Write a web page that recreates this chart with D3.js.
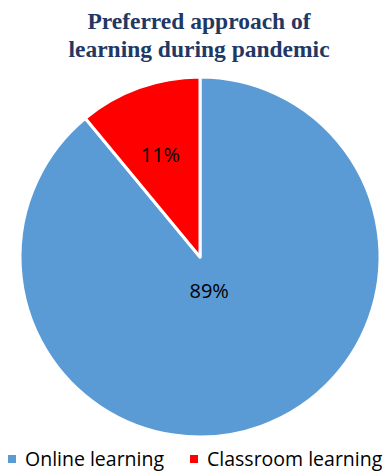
<!DOCTYPE html>
<html>
<head>
<meta charset="utf-8">
<script src="https://cdn.jsdelivr.net/npm/d3@7"></script>
<style>
  body { margin: 0; background: #fff; }
</style>
</head>
<body>
<svg id="chart" width="386" height="473"></svg>
<script>
// chart data
let categories = ['Online learning', 'Classroom learning']
let shares = [89, 11]
let sliceColors = ['#5b9bd5', '#ff0000']
let titleLines = ['Preferred approach of', 'learning during pandemic']

let svg = d3.select('#chart')

// title
svg.append('g').selectAll('text')
    .data(titleLines)
    .enter()
    .append('text')
    .attr('x', 199)
    .attr('y', (d, i) => 29 + i * 28)
    .attr('text-anchor', 'middle')
    .attr('font-family', '"Liberation Serif", "Times New Roman", serif')
    .attr('font-weight', 'bold')
    .attr('font-size', 23.5)
    .attr('fill', '#1f3864')
    .text(d => d)

// pie
let radius = 180
let pieGroup = svg.append('g').attr('transform', 'translate(200, 257)')

let pie = d3.pie().sort(null).value(d => d)
let arcs = pie(shares)

let arc = d3.arc().innerRadius(0).outerRadius(radius)

pieGroup.selectAll('path')
    .data(arcs)
    .enter()
    .append('path')
    .attr('d', arc)
    .attr('fill', (d, i) => sliceColors[i])
    .attr('stroke', '#fff')
    .attr('stroke-width', 3)
    .attr('stroke-linejoin', 'round')

// labels sit at different depths, like the original
let labelDepth = [0.2, 0.6]
pieGroup.selectAll('text')
    .data(arcs)
    .enter()
    .append('text')
    .attr('transform', (d, i) => {
        let r = radius * labelDepth[i]
        let c = d3.arc().innerRadius(r).outerRadius(r).centroid(d)
        return 'translate(' + (c[0] - 3) + ',' + c[1] + ')'
    })
    .attr('text-anchor', 'middle')
    .attr('dy', '0.35em')
    .attr('font-family', '"Open Sans", "Noto Sans", sans-serif')
    .attr('font-size', 20)
    .attr('fill', '#000')
    .text(d => d.data + '%')

// legend
let legendX = [8, 190]
let legend = svg.append('g').selectAll('g')
    .data(categories)
    .enter()
    .append('g')
    .attr('transform', (d, i) => 'translate(' + legendX[i] + ', 0)')

legend.append('rect')
    .attr('x', 0)
    .attr('y', 455)
    .attr('width', 8)
    .attr('height', 8)
    .attr('fill', (d, i) => sliceColors[i])

legend.append('text')
    .attr('x', 17)
    .attr('y', 466)
    .attr('font-family', '"Open Sans", "Noto Sans", sans-serif')
    .attr('font-size', 19.5)
    .attr('fill', '#000')
    .text(d => d)
</script>
</body>
</html>
